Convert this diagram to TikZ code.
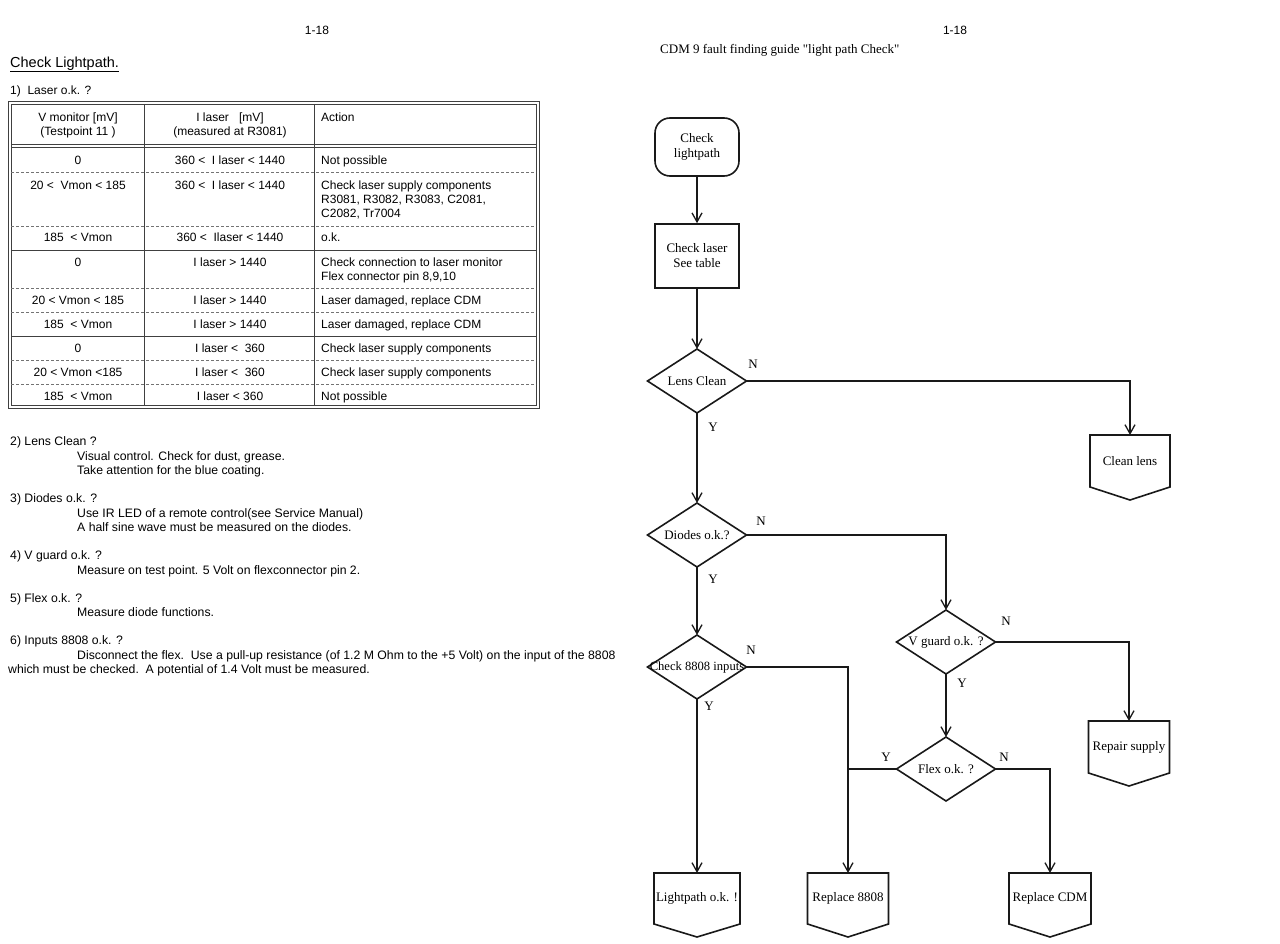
\documentclass[tikz,border=0pt]{standalone}
\usepackage{fontspec}
\setmainfont{Liberation Serif}
\newfontfamily\arialf{Liberation Sans}
\usetikzlibrary{arrows.meta,shapes.geometric,calc}
\begin{document}
\begin{tikzpicture}[x=1pt,y=-1pt,
  sans/.style={font=\arialf\fontsize{12}{14}\selectfont, inner sep=0pt},
  tl/.style={sans, anchor=base west},
  tc/.style={sans, anchor=base},
  nl/.style={font=\arialf\fontsize{12.25}{14}\selectfont, inner sep=0pt, anchor=base west},
  ser/.style={font=\fontsize{13}{15}\selectfont},
  fl/.style={line width=1.4pt, draw=black!90},
  bx/.style={line width=1.6pt, draw=black!90},
  arr/.style={fl, -{Straight Barb[length=9pt,width=10pt,line width=1.3pt]}},
  termbox/.style={ser, bx, rounded corners=15pt, minimum width=84pt, minimum height=58pt, align=center, inner sep=0pt},
  procbox/.style={ser, bx, minimum width=84pt, minimum height=64pt, align=center, inner sep=0pt},
  dia/.style={ser, bx, diamond, minimum width=99pt, minimum height=64pt, inner sep=0pt, outer sep=0pt},
  offp/.style={ser, minimum height=52pt, inner sep=0pt, outer sep=0pt},
  lab/.style={ser, inner sep=0pt},
  tline/.style={line width=0.8pt, draw=black!75},
  tdash/.style={line width=0.7pt, draw=black!55, dash pattern=on 3pt off 2pt},
]
\fill[white] (0,0) rectangle (1280,944);
\useasboundingbox (0,0) rectangle (1280,944);

% ---------------- left page ----------------
\node[tc] (pnl) at (317,35) {1-18};
\node[font=\arialf\fontsize{14.5}{16}\selectfont, inner sep=0pt, anchor=base west] (title) at (10,68) {Check Lightpath.};
\draw[line width=0.8pt] ($(title.base west)+(0,3)$) -- ($(title.base east)+(0,3)$);
\node[tl] (q1) at (10,95) {1)\ \ Laser o.k. ?};

% table frame
\draw[tline] (8,101) rectangle (539,408);
\draw[tline] (11,104) rectangle (536,405);
\draw[tline] (11,144) -- (536,144);
\draw[tline] (11,147.5) -- (536,147.5);
\draw[tline] (144,104) -- (144,405);
\draw[tline] (314,104) -- (314,405);
\foreach \yy in {172,226,288,312,360,384} \draw[tdash] (11,\yy) -- (536,\yy);
\foreach \yy in {250,336} \draw[tline] (11,\yy) -- (536,\yy);

% header
\node[tc] (h1a) at (78,122) {V monitor [mV]};
\node[tc] (h1b) at (78,136) {(Testpoint 11 )};
\node[tc] (h2a) at (230,122) {I laser \ \ [mV]};
\node[tc] (h2b) at (230,136) {(measured at R3081)};
\node[tl] (h3) at (321,122) {Action};

% rows
\node[tc] (r1a) at (78,165) {0};
\node[tc] (r1b) at (230,165) {360 <\ \ I laser < 1440};
\node[tl] (r1c) at (321,165) {Not possible};

\node[tc] (r2a) at (78,190) {20 <\ \ Vmon < 185};
\node[tc] (r2b) at (230,190) {360 <\ \ I laser < 1440};
\node[tl] (r2c) at (321,190) {Check laser supply components};
\node[tl] (r2d) at (321,204) {R3081, R3082, R3083, C2081,};
\node[tl] (r2e) at (321,218) {C2082, Tr7004};

\node[tc] (r3a) at (78,242) {185\ \ < Vmon};
\node[tc] (r3b) at (230,242) {360 <\ \ Ilaser < 1440};
\node[tl] (r3c) at (321,242) {o.k.};

\node[tc] (r4a) at (78,266) {0};
\node[tc] (r4b) at (230,266) {I laser > 1440};
\node[tl] (r4c) at (321,266) {Check connection to laser monitor};
\node[tl] (r4d) at (321,280) {Flex connector pin 8,9,10};

\node[tc] (r5a) at (78,304) {20 < Vmon < 185};
\node[tc] (r5b) at (230,304) {I laser > 1440};
\node[tl] (r5c) at (321,304) {Laser damaged, replace CDM};

\node[tc] (r6a) at (78,328) {185\ \ < Vmon};
\node[tc] (r6b) at (230,328) {I laser > 1440};
\node[tl] (r6c) at (321,328) {Laser damaged, replace CDM};

\node[tc] (r7a) at (78,352) {0};
\node[tc] (r7b) at (230,352) {I laser <\ \ 360};
\node[tl] (r7c) at (321,352) {Check laser supply components};

\node[tc] (r8a) at (78,376) {20 < Vmon <185};
\node[tc] (r8b) at (230,376) {I laser <\ \ 360};
\node[tl] (r8c) at (321,376) {Check laser supply components};

\node[tc] (r9a) at (78,400) {185\ \ < Vmon};
\node[tc] (r9b) at (230,400) {I laser < 360};
\node[tl] (r9c) at (321,400) {Not possible};

% notes
\node[nl] (n2) at (10,445) {2) Lens Clean ?};
\node[nl] (n2a) at (77,460) {Visual control. Check for dust, grease.};
\node[nl] (n2b) at (77,474) {Take attention for the blue coating.};
\node[nl] (n3) at (10,502) {3) Diodes o.k. ?};
\node[nl] (n3a) at (77,517) {Use IR LED of a remote control(see Service Manual)};
\node[nl] (n3b) at (77,531) {A half sine wave must be measured on the diodes.};
\node[nl] (n4) at (10,559) {4) V guard o.k. ?};
\node[nl] (n4a) at (77,574) {Measure on test point. 5 Volt on flexconnector pin 2.};
\node[nl] (n5) at (10,602) {5) Flex o.k. ?};
\node[nl] (n5a) at (77,616) {Measure diode functions.};
\node[nl] (n6) at (10,644) {6) Inputs 8808 o.k. ?};
\node[nl] (n6a) at (77,659) {Disconnect the flex.\ \ Use a pull-up resistance (of 1.2 M Ohm to the +5 Volt) on the input of the 8808};
\node[nl] (n6b) at (8,673) {which must be checked.\ \ A potential of 1.4 Volt must be measured.};

% ---------------- right page ----------------
\node[tc] (pnr) at (955,35) {1-18};
\node[ser, inner sep=0pt, anchor=base west] (ftitle) at (660,54) {CDM 9 fault finding guide \textquotedbl light path Check\textquotedbl};

\node[termbox] (start) at (697,147) {Check\\lightpath};
\node[procbox] (laser) at (697,256) {Check laser\\See table};
\node[dia] (lens) at (697,381) {\makebox[0pt]{Lens Clean}};
\node[dia] (diodes) at (697,535) {\makebox[0pt]{Diodes o.k.?}};
\node[dia] (c8808) at (697,667) {\makebox[0pt]{\fontsize{12.6}{15}\selectfont Check 8808 inputs}};
\node[dia] (vguard) at (946,642) {\makebox[0pt]{V guard o.k. ?}};
\node[dia] (flex) at (946,769) {\makebox[0pt]{Flex o.k. ?}};

\node[offp, minimum width=80pt] (clean) at (1130,461) {Clean lens};
\node[offp, minimum width=81pt] (repair) at (1129,747) {Repair supply};
\node[offp, minimum width=86pt, minimum height=51pt] (lightok) at (697,898.5) {Lightpath o.k. !};
\node[offp, minimum width=81pt, minimum height=51pt] (r8808) at (848,898.5) {Replace 8808};
\node[offp, minimum width=82pt, minimum height=51pt] (rcdm) at (1050,898.5) {Replace CDM};
\foreach \n in {clean,repair,lightok,r8808,rcdm}
  \draw[bx] (\n.north west) -- (\n.north east) -- (\n.south east) -- ($(\n.south)+(0,13)$) -- (\n.south west) -- cycle;

\draw[arr] (start) -- (laser);
\draw[arr] (laser) -- (lens);
\draw[arr] (lens.east) -| (clean.north);
\draw[arr] (lens.south) -- (diodes.north);
\draw[arr] (diodes.east) -| (vguard.north);
\draw[arr] (diodes.south) -- (c8808.north);
\draw[arr] (vguard.east) -| (repair.north);
\draw[arr] (vguard.south) -- (flex.north);
\draw[arr] (c8808.east) -| (r8808.north);
\draw[arr] (c8808.south) -- (lightok.north);
\draw[arr] (flex.east) -| (rcdm.north);
\coordinate (fj) at (flex.west -| r8808.north);
\draw[fl] (flex.west) -- (fj);

\node[lab] (ln) at (753,364) {N};
\node[lab] (ly) at (713,427) {Y};
\node[lab] (dn) at (761,521) {N};
\node[lab] (dy) at (713,579) {Y};
\node[lab] (vn) at (1006,621) {N};
\node[lab] (vy) at (962,683) {Y};
\node[lab] (cn) at (751,650) {N};
\node[lab] (cy) at (709,706) {Y};
\node[lab] (fy) at (886,757) {Y};
\node[lab] (fn) at (1004,757) {N};
\end{tikzpicture}
\end{document}
